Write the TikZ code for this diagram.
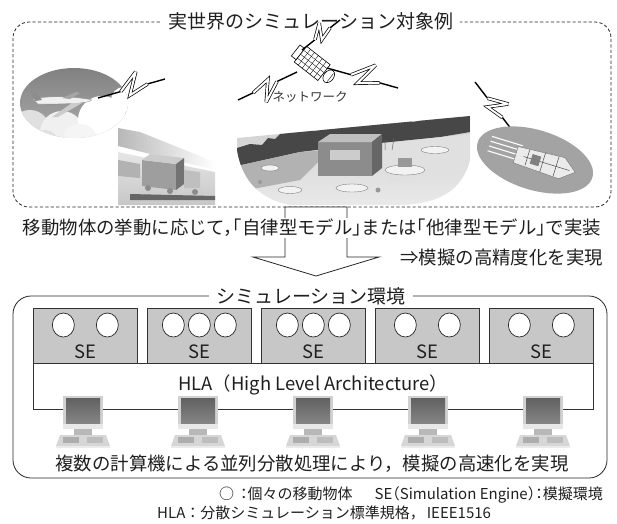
\documentclass[tikz,border=0pt]{standalone}
\usepackage{fontspec}
\setmainfont{Noto Sans CJK JP}
\usetikzlibrary{calc,shapes.geometric}

\newcommand\jpbig{\fontsize{18.4}{21}\selectfont}
\newcommand\jphead{\fontsize{19}{22}\selectfont}
\newcommand\jpsmall{\fontsize{15}{17}\selectfont}
\newcommand\jptiny{\fontsize{12.5}{14}\selectfont}

% lightning symbol between two points: straight part, hollow zigzag, straight part
\newcommand\lightningzap[2]{%
  \draw[boltline] (#1) -- ($(#1)!0.34!(#2)$);
  \draw[boltzig] ($(#1)!0.34!(#2)$) -- ($(#1)!0.66!19:(#2)$) -- ($(#1)!0.46!-11:(#2)$) -- ($(#1)!0.74!0:(#2)$);
  \draw[boltline] ($(#1)!0.74!(#2)$) -- (#2);
}

\tikzset{
  ink/.style={draw=black!85, line width=0.8pt},
  sebox/.style={draw=black!80, fill=black!22, line width=0.7pt, rectangle,
    minimum width=104pt, minimum height=55pt, inner sep=0pt, anchor=north west},
  mover/.style={draw=black!85, fill=white, line width=0.7pt, ellipse,
    minimum width=22pt, minimum height=24pt, inner sep=0pt},
  bigtext/.style={font=\jpbig, text=black!88, inner sep=1pt},
  headtext/.style={font=\jphead, text=black!88, fill=white, inner xsep=7pt, inner ysep=1pt},
  smalltext/.style={font=\jpsmall, text=black!88, inner sep=1pt},
  boltline/.style={draw=black, line width=1.4pt},
  boltzig/.style={draw=black, double=white, double distance=2pt, line width=0.7pt, line join=miter, miter limit=4},
  pc/.pic={
    % keyboard / base unit
    \fill[black!16] (-27,36) -- (-23,25) -- (23,25) -- (27,36) -- cycle;
    \fill[black!32] (-20,27) rectangle (-4,33);
    \fill[black!26] (4,27) rectangle (20,33);
    \fill[black!8] (-27,36) rectangle (27,38);
    % neck
    \fill[black!28] (-9,19) rectangle (9,25);
    % monitor frame and screen
    \fill[black!18] (-20,-14) rectangle (20,19);
    \shade[top color=black!62, bottom color=black!48] (-17,-12) rectangle (17,13);
    \fill[black!9] (-20,14) rectangle (20,19);
  }
}

\begin{document}
\begin{tikzpicture}[x=1pt,y=-1pt]
\useasboundingbox (0,0) rectangle (617,523);

% ---------- real-world scenes ----------
\draw[ink, dashed, dash pattern=on 3.2pt off 2.2pt, rounded corners=16pt] (13,22) rectangle (611,207);
\node[headtext] (worldtitle) at (311,21) {実世界のシミュレーション対象例};

% aircraft above the clouds
\begin{scope}
  \clip (74,103) ellipse [x radius=54pt, y radius=35pt];
  \shade[top color=black!50, bottom color=black!32] (18,66) rectangle (130,140);
  \fill[black!12] (30,130) circle [radius=20pt];
  \fill[black!6] (62,133) circle [radius=22pt];
  \fill[white] (102,120) circle [radius=24pt];
  \fill[white] (124,100) circle [radius=13pt];
  \fill[black!4] (80,142) circle [radius=18pt];
  \fill[black!12] (45,144) circle [radius=14pt];
  % aeroplane
  \fill[black!6, draw=black!45, line width=0.3pt] (33,99) .. controls (50,95) and (80,97) .. (92,100)
     .. controls (88,104) and (60,104) .. (38,104) -- cycle;
  \fill[black!45] (32,93) -- (37,93) -- (42,100) -- (35,101) -- cycle;
  \fill[black!20] (72,103) -- (52,117) -- (58,117) -- (82,103) -- cycle;
  \fill[black!35] (62,98) -- (76,92) -- (80,93) -- (70,99) -- cycle;
\end{scope}
\lightningzap{98,98}{165,79}

% road traffic scene
\begin{scope}
  \shade[left color=black!28, right color=white] (118,128) -- (140,132) -- (215,162) -- (215,170) -- (118,146) -- cycle;
  \shade[top color=black!10, bottom color=black!22] (118,152) -- (215,172) -- (215,205) -- (118,205) -- cycle;
  \fill[black!30] (118,160) -- (140,164) -- (140,178) -- (118,176) -- cycle;
  % truck
  \fill[black!38] (142,160) -- (176,164) -- (176,190) -- (142,186) -- cycle;
  \fill[black!20] (142,160) -- (150,154) -- (184,158) -- (176,164) -- cycle;
  \fill[black!55] (176,164) -- (184,158) -- (184,184) -- (176,190) -- cycle;
  \fill[black!25] (184,170) -- (200,172) -- (200,188) -- (184,188) -- cycle;
  \fill[black!60] (130,194) -- (215,196) -- (215,200) -- (130,200) -- cycle;
  \fill[black!45] (148,188) circle [radius=3pt];
  \fill[black!45] (170,191) circle [radius=3pt];
  \fill[black!45] (195,192) circle [radius=3pt];
\end{scope}

% satellite
\begin{scope}[shift={(313,64)}, rotate=-38]
  \draw[black, line width=0.6pt, fill=white] (-16,-10) rectangle (14,10);
  \foreach \gx in {-11,-6,-1,4,9} {\draw[black, line width=0.35pt] (\gx,-10) -- (\gx,10);}
  \foreach \gy in {-5,0,5} {\draw[black, line width=0.35pt] (-16,\gy) -- (14,\gy);}
  \draw[black, line width=0.6pt, fill=white] (-22,-7) rectangle (-16,7);
  \draw[black, line width=0.6pt, fill=white] (20,0) ellipse [x radius=5pt, y radius=7pt];
  \draw[black, line width=0.4pt] (22,-5) -- (22,5);
\end{scope}
\lightningzap{302,50}{340,20}
\lightningzap{297,72}{238,100}
\lightningzap{327,68}{398,88}
\node[font=\jptiny, text=black!80, inner sep=0pt] (netlabel) at (310,97) {ネットワーク};

% harbour scene
\begin{scope}
  \clip (237,138) -- (470,116) -- (470,160) .. controls (462,190) and (440,204) .. (400,205)
        -- (290,205) .. controls (262,200) and (242,182) .. (237,150) -- cycle;
  \shade[top color=black!20, bottom color=black!8] (230,110) rectangle (480,210);
  \fill[black!72] (237,148) -- (250,144) -- (262,145) -- (268,138) -- (275,139) -- (280,134)
     -- (300,132) -- (304,124) -- (312,124) -- (314,131) -- (330,129) -- (332,120) -- (342,120)
     -- (345,127) -- (360,126) -- (372,118) -- (380,124) -- (395,122) -- (405,114) -- (412,122)
     -- (425,120) -- (432,112) -- (440,118) -- (452,114) -- (462,117) -- (470,113)
     -- (470,132) -- (440,137) -- (400,141) -- (340,147) -- (300,152) -- (237,166) -- cycle;
  \fill[black!30] (237,166) -- (300,152) -- (330,150) -- (300,180) -- (237,192) -- cycle;
  \fill[black!12] (360,146) -- (470,134) -- (470,170) -- (390,182) -- cycle;
  % terminal building
  \fill[black!45] (318,142) rectangle (372,176);
  \fill[black!25] (318,142) -- (330,134) -- (382,134) -- (372,142) -- cycle;
  \fill[black!60] (372,142) -- (382,134) -- (382,168) -- (372,176) -- cycle;
  \fill[black!20] (330,150) rectangle (360,160);
  % boats
  \fill[black!5, draw=black!50, line width=0.4pt] (405,170) ellipse [x radius=20pt, y radius=5pt];
  \fill[black!40] (398,158) rectangle (412,167);
  \fill[black!5, draw=black!50, line width=0.4pt] (352,188) ellipse [x radius=16pt, y radius=4pt];
  \fill[black!5, draw=black!50, line width=0.4pt] (270,168) ellipse [x radius=9pt, y radius=3pt];
  \fill[black!5, draw=black!50, line width=0.4pt] (290,190) ellipse [x radius=12pt, y radius=3.5pt];
  \fill[black!5, draw=black!50, line width=0.4pt] (435,150) ellipse [x radius=14pt, y radius=3.5pt];
  \draw[black!60, line width=0.5pt] (385,150) -- (385,140) (392,150) -- (394,138);
  \fill[black!40] (378,190) circle [radius=2.5pt];
  \fill[black!40] (260,182) circle [radius=2pt];
\end{scope}

% ship at sea
\lightningzap{475,82}{512,130}
\begin{scope}[shift={(535,160)}, rotate=-17]
  \fill[black!36] (0,0) ellipse [x radius=60pt, y radius=30pt];
  \foreach \wy in {-10,-5,0,5} {\draw[white, line width=1.1pt] (-48,\wy) -- (-16,\wy);}
  \fill[black!8, draw=black!55, line width=0.4pt] (-20,-8) -- (28,-11) -- (42,0) -- (28,11) -- (-20,9) -- cycle;
  \draw[black!70, line width=0.5pt] (-8,-8) -- (-8,8) (8,-10) -- (8,10) (22,-10) -- (22,10) (-12,0) -- (36,0);
  \fill[black!50] (-4,-5) rectangle (5,5);
\end{scope}

% ---------- modelling note and arrow ----------
\draw[ink, fill=white, line join=miter] (285,207) -- (285,257) -- (253,257) -- (316,276)
  -- (379,257) -- (347,257) -- (347,207) -- cycle;
\node[bigtext, fill=white, font=\jpbig\addfontfeature{RawFeature=+halt}] (modelnote) at (312,228)
  {移動物体の挙動に応じて，「自律型モデル」または「他律型モデル」で実装};
\node[bigtext, anchor=east] (accuracy) at (604,258) {⇒模擬の高精度化を実現};

% ---------- simulation environment ----------
\draw[ink, rounded corners=18pt] (13,296) rectangle (607,478);
\node[headtext] (envtitle) at (311,296) {シミュレーション環境};

\draw[draw=black!80, line width=0.7pt] (33,363) rectangle (593,409);
\node[bigtext] (hla) at (313,385) {HLA（High Level Architecture）};

\node[sebox] (se1) at (33,308) {};
\node[sebox] (se2) at (147,308) {};
\node[sebox] (se3) at (261,308) {};
\node[sebox] (se4) at (375,308) {};
\node[sebox] (se5) at (489,308) {};
\foreach \b in {1,...,5} {
  \node[bigtext] (se\b label) at ($(se\b.south)+(0,-12)$) {SE};
}
\foreach \b in {1,4,5} {
  \node[mover] (se\b a) at ($(se\b.north)+(-22,17)$) {};
  \node[mover] (se\b b) at ($(se\b.north)+(22,17)$) {};
}
\foreach \b in {2,3} {
  \node[mover] (se\b a) at ($(se\b.north)+(-26,17)$) {};
  \node[mover] (se\b b) at ($(se\b.north)+(0,17)$) {};
  \node[mover] (se\b c) at ($(se\b.north)+(26,17)$) {};
}

% computers on the network line
\foreach \c [count=\k] in {83,198,313,428,543} {
  \pic (pc\k) at (\c,410) {pc};
}

\node[bigtext] (speed) at (312,464) {複数の計算機による並列分散処理により，模擬の高速化を実現};

% ---------- legend ----------
\node[smalltext, anchor=east, font=\jpsmall\addfontfeature{RawFeature=+halt}] (legendA) at (604,495)
  {○\hspace{6pt}：個々の移動物体\hspace{22pt}SE（Simulation Engine）：模擬環境};
\node[smalltext, anchor=west] (legendB) at (156,513) {HLA：分散シミュレーション標準規格，\hspace{2pt}IEEE1516};

\end{tikzpicture}
\end{document}
